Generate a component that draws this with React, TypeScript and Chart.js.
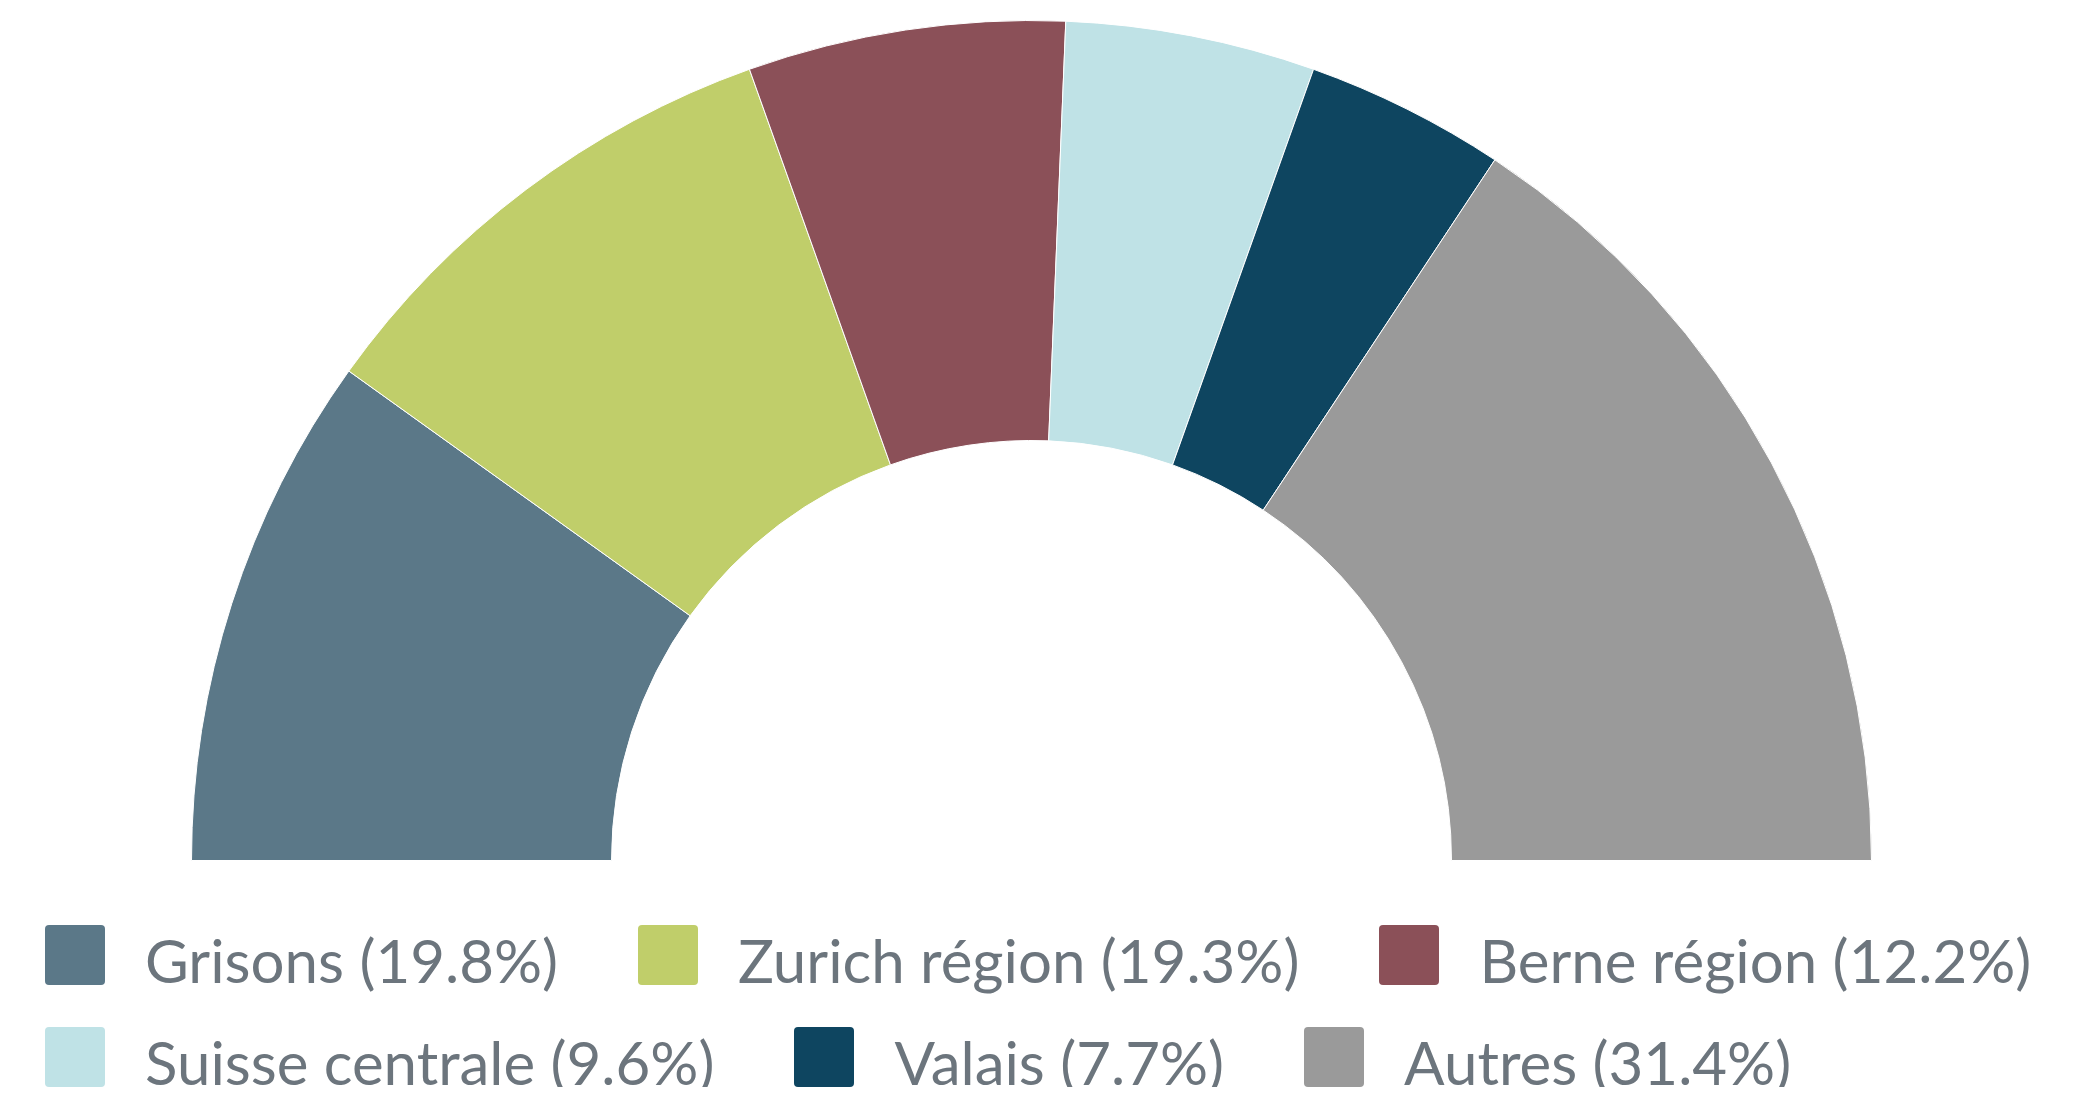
import React, { useEffect, useRef } from "react";
import { Chart, registerables } from "chart.js";

Chart.register(...registerables);

const categories = ["Grisons", "Zurich région", "Berne région", "Suisse centrale", "Valais", "Autres"];
const shares = [19.8, 19.3, 12.2, 9.6, 7.7, 31.4];
const colors = ["#5b7888", "#c0ce6a", "#8b5058", "#bfe2e6", "#0e4560", "#9a9a9a"];
const legendRows = [[0, 1, 2], [3, 4, 5]];

const TEXT_COLOR = "#6c757d";
const FONT = "Lato, 'Noto Sans', sans-serif";

export default function App() {
  const canvasRef = useRef<HTMLCanvasElement | null>(null);

  useEffect(() => {
    const canvas = canvasRef.current;
    if (!canvas) return;
    const chart = new Chart(canvas, {
      type: "doughnut",
      data: {
        labels: categories,
        datasets: [
          {
            data: shares,
            backgroundColor: colors,
            borderColor: "#ffffff",
            borderWidth: 1,
          },
        ],
      },
      options: {
        animation: false,
        responsive: true,
        maintainAspectRatio: false,
        rotation: -90,
        circumference: 180,
        cutout: "50%",
        layout: { padding: { top: 12, right: 25, left: 0, bottom: 0 } },
        plugins: {
          legend: { display: false },
          tooltip: { enabled: false },
        },
      },
    });
    return () => chart.destroy();
  }, []);

  return (
    <div style={{ width: 2072, fontFamily: FONT }}>
      <div style={{ position: "relative", width: 2072, height: 853 }}>
        <canvas ref={canvasRef} />
      </div>
      <div style={{ marginTop: 64, paddingLeft: 37 }}>
        {legendRows.map((row, ri) => (
          <div
            key={ri}
            style={{
              display: "flex",
              alignItems: "center",
              height: 60,
              marginBottom: ri === 0 ? 42 : 0,
            }}
          >
            {row.map((idx, k) => (
              <div
                key={idx}
                style={{
                  display: "flex",
                  alignItems: "center",
                  marginLeft: k === 0 ? 0 : 80,
                }}
              >
                <span
                  style={{
                    display: "inline-block",
                    width: 60,
                    height: 60,
                    borderRadius: 4,
                    background: colors[idx],
                  }}
                />
                <span
                  style={{
                    marginLeft: 40,
                    fontSize: 60,
                    lineHeight: "60px",
                    color: TEXT_COLOR,
                    position: "relative",
                    top: 5,
                    whiteSpace: "nowrap",
                  }}
                >
                  {`${categories[idx]} (${shares[idx].toFixed(1)}%)`}
                </span>
              </div>
            ))}
          </div>
        ))}
      </div>
    </div>
  );
}
